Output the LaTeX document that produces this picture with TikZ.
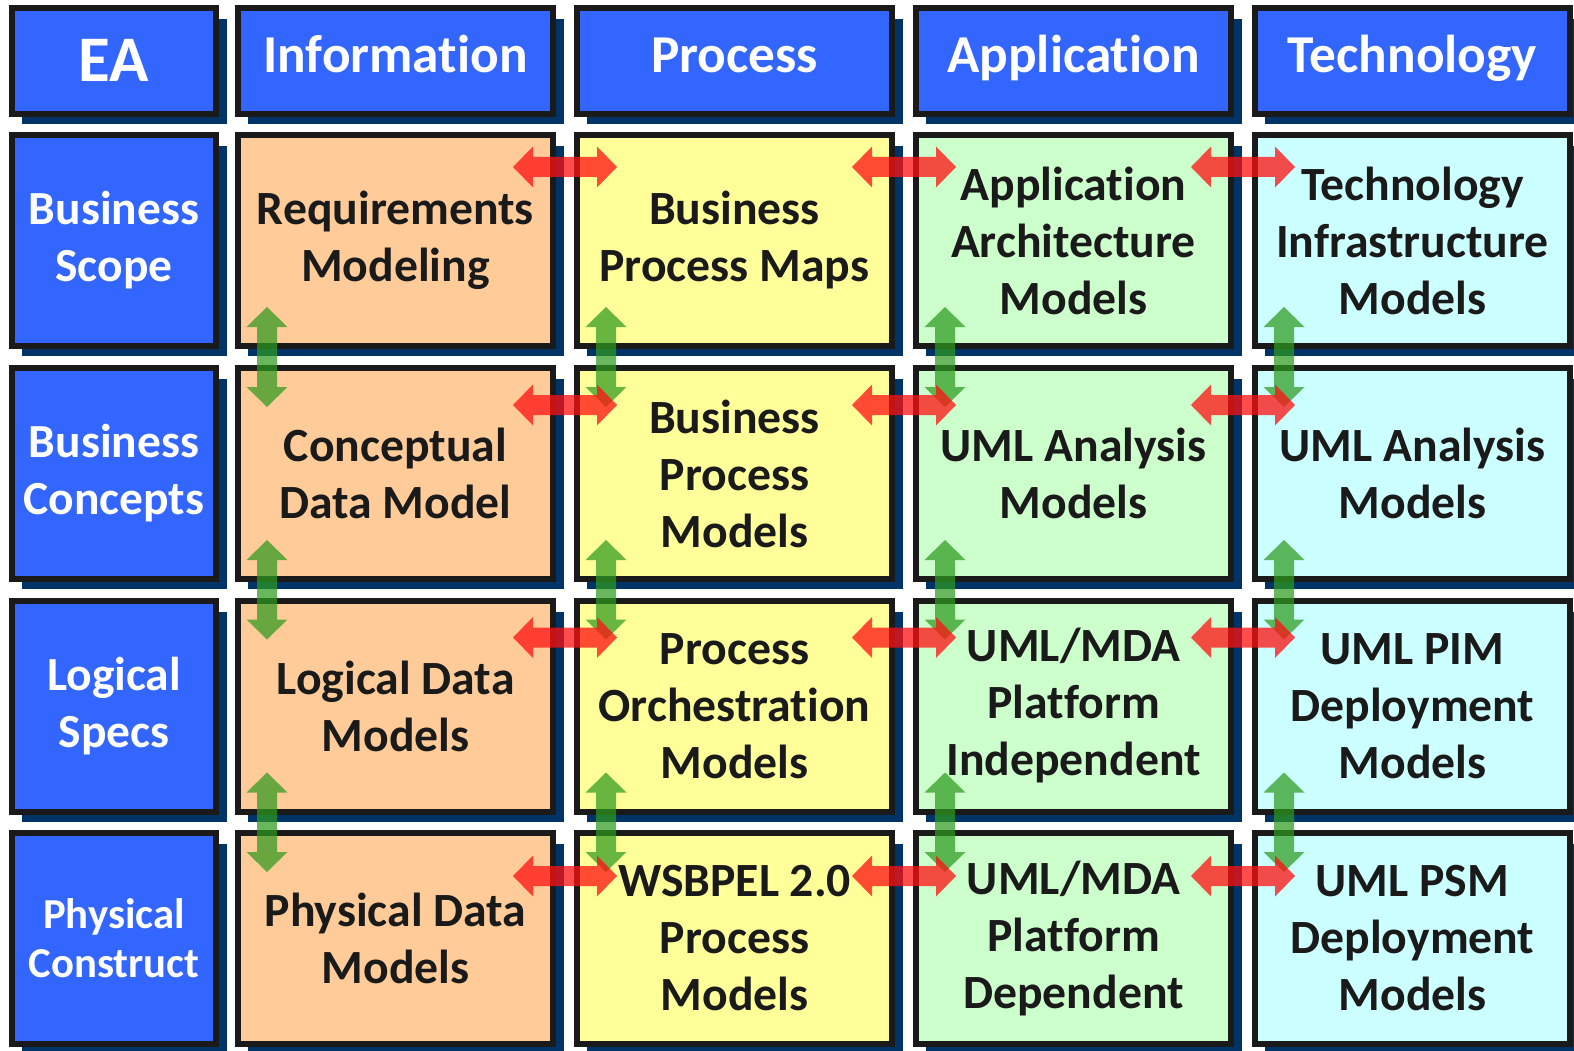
\documentclass[tikz,border=0pt]{standalone}
\usepackage{fontspec}
\setmainfont{Carlito}[Ligatures=CommonOff]
\usetikzlibrary{calc,backgrounds}

\definecolor{hdrblue}{HTML}{3366FF}
\definecolor{shadowblue}{HTML}{003366}
\definecolor{boxline}{HTML}{1A1A1A}
\definecolor{peach}{HTML}{FFCC99}
\definecolor{paleyellow}{HTML}{FFFF99}
\definecolor{palegreen}{HTML}{CCFFCC}
\definecolor{palecyan}{HTML}{CCFFFF}
\definecolor{arrowred}{HTML}{FF1010}
\definecolor{arrowgreen}{HTML}{2E9A1E}

\tikzset{
  fatarrow/.style={to path={
    -- ($($(\tikztostart)!20pt!(\tikztotarget)$)!20.5pt!90:(\tikztotarget)$)
    -- ($($(\tikztostart)!20pt!(\tikztotarget)$)!10pt!90:(\tikztotarget)$)
    -- ($($(\tikztotarget)!20pt!(\tikztostart)$)!10pt!-90:(\tikztostart)$)
    -- ($($(\tikztotarget)!20pt!(\tikztostart)$)!20.5pt!-90:(\tikztostart)$)
    -- (\tikztotarget)
    -- ($($(\tikztotarget)!20pt!(\tikztostart)$)!20.5pt!90:(\tikztostart)$)
    -- ($($(\tikztotarget)!20pt!(\tikztostart)$)!10pt!90:(\tikztostart)$)
    -- ($($(\tikztostart)!20pt!(\tikztotarget)$)!10pt!-90:(\tikztotarget)$)
    -- ($($(\tikztostart)!20pt!(\tikztotarget)$)!20.5pt!-90:(\tikztotarget)$)
    -- cycle}},
  redarrow/.style={fatarrow, fill=arrowred, fill opacity=0.75},
  greenarrow/.style={fatarrow, fill=arrowgreen, fill opacity=0.72},
  cell/.style={draw=boxline, line width=6pt, minimum width=315pt, minimum height=211pt,
    inner sep=0pt, align=center, text=boxline, font=\fontsize{47.7}{57}\selectfont\bfseries},
  headcell/.style={cell, fill=hdrblue, text=white, minimum height=106pt,
    text height=37.3pt, text depth=13.3pt, font=\fontsize{53.3}{62}\selectfont\bfseries},
  sidecell/.style={cell, fill=hdrblue, text=white, minimum width=204pt,
    font=\fontsize{47.5}{57}\selectfont\bfseries}
}

\begin{document}
\begin{tikzpicture}[x=1pt, y=-1pt]
  \useasboundingbox (0,0) rectangle (1574,1051);

  % column headers
  \node [headcell, minimum width=204pt, text height=41.6pt, text depth=0pt,
    font=\fontsize{65}{70}\selectfont\bfseries] (ea) at (114,61) {EA};
  \node [headcell] (hinfo) at (395.5,61) {Information};
  \node [headcell] (hproc) at (734.5,61) {Process};
  \node [headcell] (happ) at (1073.5,61) {Application};
  \node [headcell] (htech) at (1412.5,61) {Technology};

  % row labels
  \node [sidecell] (sscope) at (114,240.5) {Business\\Scope};
  \node [sidecell] (sconc) at (114,473.5) {Business\\Concepts};
  \node [sidecell] (slog) at (114,706) {Logical\\Specs};
  \node [sidecell, font=\fontsize{42.7}{49}\selectfont\bfseries] (sphys) at (114,938.5) {Physical\\Construct};

  % Business Scope
  \node [cell, fill=peach] (info1) at (395.5,240.5) {Requirements\\Modeling};
  \node [cell, fill=paleyellow] (proc1) at (734.5,240.5) {Business\\Process Maps};
  \node [cell, fill=palegreen] (app1) at (1073.5,240.5) {Application\\Architecture\\Models};
  \node [cell, fill=palecyan] (tech1) at (1412.5,240.5) {Technology\\Infrastructure\\Models};

  % Business Concepts
  \node [cell, fill=peach] (info2) at (395.5,473.5) {Conceptual\\Data Model};
  \node [cell, fill=paleyellow] (proc2) at (734.5,473.5) {Business\\Process\\Models};
  \node [cell, fill=palegreen] (app2) at (1073.5,473.5) {UML Analysis\\Models};
  \node [cell, fill=palecyan] (tech2) at (1412.5,473.5) {UML Analysis\\Models};

  % Logical Specs
  \node [cell, fill=peach] (info3) at (395.5,706) {Logical Data\\Models};
  \node [cell, fill=paleyellow] (proc3) at (734.5,706) {Process\\Orchestration\\Models};
  \node [cell, fill=palegreen] (app3) at (1073.5,706) {UML/MDA\\Platform\\Independent};
  \node [cell, fill=palecyan] (tech3) at (1412.5,706) {UML PIM\\Deployment\\Models};

  % Physical Construct
  \node [cell, fill=peach] (info4) at (395.5,938.5) {Physical Data\\Models};
  \node [cell, fill=paleyellow] (proc4) at (734.5,938.5) {WSBPEL 2.0\\Process\\Models};
  \node [cell, fill=palegreen] (app4) at (1073.5,938.5) {UML/MDA\\Platform\\Dependent};
  \node [cell, fill=palecyan] (tech4) at (1412.5,938.5) {UML PSM\\Deployment\\Models};

  % shadows
  \begin{pgfonlayer}{background}
    \foreach \n in {ea,hinfo,hproc,happ,htech,sscope,sconc,slog,sphys,
                    info1,proc1,app1,tech1,info2,proc2,app2,tech2,
                    info3,proc3,app3,tech3,info4,proc4,app4,tech4}
      \fill [shadowblue] ($(\n.north west)+(13,14)$) rectangle ($(\n.south east)+(8,7)$);
  \end{pgfonlayer}

  % vertical links
  \fill [greenarrow] ($(info1.south west)+(32,-42)$) to ($(info2.north west)+(32,42)$);
  \fill [greenarrow] ($(info2.south west)+(32,-42)$) to ($(info3.north west)+(32,42)$);
  \fill [greenarrow] ($(info3.south west)+(32,-42)$) to ($(info4.north west)+(32,42)$);
  \fill [greenarrow] ($(proc1.south west)+(32,-42)$) to ($(proc2.north west)+(32,42)$);
  \fill [greenarrow] ($(proc2.south west)+(32,-42)$) to ($(proc3.north west)+(32,42)$);
  \fill [greenarrow] ($(proc3.south west)+(32,-42)$) to ($(proc4.north west)+(32,42)$);
  \fill [greenarrow] ($(app1.south west)+(32,-42)$) to ($(app2.north west)+(32,42)$);
  \fill [greenarrow] ($(app2.south west)+(32,-42)$) to ($(app3.north west)+(32,42)$);
  \fill [greenarrow] ($(app3.south west)+(32,-42)$) to ($(app4.north west)+(32,42)$);
  \fill [greenarrow] ($(tech1.south west)+(32,-42)$) to ($(tech2.north west)+(32,42)$);
  \fill [greenarrow] ($(tech2.south west)+(32,-42)$) to ($(tech3.north west)+(32,42)$);
  \fill [greenarrow] ($(tech3.south west)+(32,-42)$) to ($(tech4.north west)+(32,42)$);

  % horizontal links
  \fill [redarrow] ($(info1.north east)+(-43,35)$) to ($(proc1.north west)+(43,35)$);
  \fill [redarrow] ($(proc1.north east)+(-43,35)$) to ($(app1.north west)+(43,35)$);
  \fill [redarrow] ($(app1.north east)+(-43,35)$) to ($(tech1.north west)+(43,35)$);
  \fill [redarrow] ($(info2.north east)+(-43,40)$) to ($(proc2.north west)+(43,40)$);
  \fill [redarrow] ($(proc2.north east)+(-43,40)$) to ($(app2.north west)+(43,40)$);
  \fill [redarrow] ($(app2.north east)+(-43,40)$) to ($(tech2.north west)+(43,40)$);
  \fill [redarrow] ($(info3.north east)+(-43,40)$) to ($(proc3.north west)+(43,40)$);
  \fill [redarrow] ($(proc3.north east)+(-43,40)$) to ($(app3.north west)+(43,40)$);
  \fill [redarrow] ($(app3.north east)+(-43,40)$) to ($(tech3.north west)+(43,40)$);
  \fill [redarrow] ($(info4.north east)+(-43,46)$) to ($(proc4.north west)+(43,46)$);
  \fill [redarrow] ($(proc4.north east)+(-43,46)$) to ($(app4.north west)+(43,46)$);
  \fill [redarrow] ($(app4.north east)+(-43,46)$) to ($(tech4.north west)+(43,46)$);
\end{tikzpicture}
\end{document}
